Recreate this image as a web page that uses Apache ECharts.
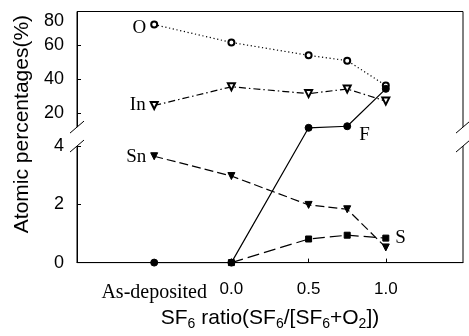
<!DOCTYPE html>
<html>
<head>
<meta charset="utf-8">
<script src="https://cdn.jsdelivr.net/npm/echarts@6/dist/echarts.min.js"></script>
<style>
  html, body { margin: 0; padding: 0; background: #fff; }
  #chart { width: 469px; height: 336px; }
</style>
</head>
<body>
<div id="chart"></div>
<script>
// SF6 ratio positions (As-deposited is put at -0.5)
const xPositions = [-0.5, 0, 0.5, 0.75, 1.0];
const oxygen = [72.3, 61.8, 54.2, 51.1, 36.5];
const indium = [24.7, 35.7, 31.7, 34.4, 27.3];
const fluorine = [0, 0, 11.7, 12.5, 34.5];
const tin = [3.65, 2.97, 1.98, 1.83, 0.52];
const sulfur = [null, 0, 0.81, 0.94, 0.84];

const xTicks = [-0.5, 0, 0.5, 1.0];
const xTickLabels = ['As-deposited', '0.0', '0.5', '1.0'];
const yTicks = [0, 2, 4, 20, 40, 60, 80];

// broken y axis: 0..4 below the break, 12..80 above it
const LOW_MAX = 4, HIGH_MIN = 12;
function toDisp(v) {
  if (v <= LOW_MAX) return 30 * v;
  if (v >= HIGH_MIN) return 118.5 + 1.75 * v;
  const a = 30 * LOW_MAX, b = 118.5 + 1.75 * HIGH_MIN;
  return a + (v - LOW_MAX) / (HIGH_MIN - LOW_MAX) * (b - a);
}
const Y_MAX = toDisp(80);

const sans = 'Liberation Sans';
const serif = 'Liberation Serif';

function points(vals) {
  return xPositions.map((x, i) => vals[i] == null ? null : [x, toDisp(vals[i])]).filter(Boolean);
}

function withLabel(data, idx, text, pos, extra) {
  data[idx] = {
    value: data[idx],
    label: Object.assign({
      show: true, formatter: text, position: pos,
      fontFamily: serif, fontSize: 19, color: '#000'
    }, extra || {})
  };
  return data;
}

const chart = echarts.init(document.getElementById('chart'));

const lineSeries = (name, vals, symbol, size, dash, extra) => Object.assign({
  name: name,
  type: 'line',
  data: points(vals),
  symbol: symbol,
  symbolSize: size,
  showAllSymbol: true,
  lineStyle: { color: '#000', width: 1.2, type: dash },
  itemStyle: { color: '#000', borderColor: '#000', borderWidth: 1 },
  emphasis: { disabled: true },
  z: 3
}, extra || {});

const oData = withLabel(points(oxygen), 0, 'O', 'left', { distance: 4, offset: [0, 3] });
const inData = withLabel(points(indium), 0, 'In', 'left', { distance: 4 });
const snData = withLabel(points(tin), 0, 'Sn', 'left', { distance: 4, offset: [0, 1] });
const fData = withLabel(points(fluorine), 3, 'F', 'right', { distance: 8, offset: [0, 9] });
const sData = withLabel(points(sulfur), 3, 'S', 'right', { distance: 6 });

chart.setOption({
  animation: false,
  backgroundColor: '#fff',
  grid: {
    left: 77, right: 6, top: 11.5, bottom: 66,
    show: true, borderColor: '#000', borderWidth: 1, backgroundColor: 'transparent'
  },
  xAxis: {
    type: 'value',
    min: -1, max: 1.5,
    name: '{a|SF}{s|6}{a| ratio(SF}{s|6}{a|/[SF}{s|6}{a|+O}{s|2}{a|])}',
    nameLocation: 'middle',
    nameGap: 41,
    nameTextStyle: {
      rich: {
        a: { fontFamily: sans, fontSize: 21, color: '#000' },
        s: { fontFamily: sans, fontSize: 14, color: '#000', padding: [12, 0, 0, 0] }
      }
    },
    axisLine: { show: true, onZero: false, lineStyle: { color: '#000', width: 1 } },
    splitLine: { show: false },
    axisTick: { show: true, inside: true, length: 4, customValues: [0, 0.5, 1.0], lineStyle: { color: '#000' } },
    axisLabel: {
      customValues: xTicks,
      margin: 14,
      formatter: function (val) {
        const i = xTicks.findIndex(t => Math.abs(t - val) < 1e-6);
        if (i < 0) return '';
        return (i === 0 ? '{serif|' : '{num|') + xTickLabels[i] + '}';
      },
      rich: {
        serif: { fontFamily: serif, fontSize: 20, color: '#000', padding: [6, 0, 0, 0] },
        num: { fontFamily: sans, fontSize: 17, color: '#000', padding: [4, 0, 0, 0] }
      }
    }
  },
  yAxis: {
    type: 'value',
    min: 0, max: Y_MAX,
    name: 'Atomic percentages(%)',
    nameLocation: 'middle',
    nameGap: 42,
    nameTextStyle: { fontFamily: sans, fontSize: 21, color: '#000', padding: [0, 0, 0, 26] },
    axisLine: { show: true, onZero: false, lineStyle: { color: '#000', width: 1 } },
    splitLine: { show: false },
    axisTick: {
      show: true, inside: true, length: 4,
      customValues: yTicks.filter(t => t !== 0 && t !== 80).map(toDisp),
      lineStyle: { color: '#000' }
    },
    axisLabel: {
      customValues: yTicks.map(toDisp),
      margin: 13,
      formatter: function (val) {
        const t = yTicks.find(t => Math.abs(toDisp(t) - val) < 0.01);
        if (t === undefined) return '';
        return t === 80 ? '{top|80}' : '{num|' + t + '}';
      },
      rich: {
        top: { fontFamily: sans, fontSize: 18, color: '#000', padding: [20, 0, 0, 0] },
        num: { fontFamily: sans, fontSize: 18, color: '#000' }
      }
    }
  },
  series: [
    lineSeries('O', oxygen, 'emptyCircle', 6, [1.2, 2.6], { data: oData }),
    lineSeries('In', indium, 'emptyTriangle', 7, [7, 3, 1.5, 3], { data: inData, symbolRotate: 180 }),
    lineSeries('F', fluorine, 'circle', 7, 'solid', { data: fData }),
    lineSeries('Sn', tin, 'triangle', 7, [9, 4], { data: snData, symbolRotate: 180 }),
    lineSeries('S', sulfur, 'rect', 6, [12, 5], { data: sData })
  ]
});

// axis break marks on the left and right frame lines
const yUp = chart.convertToPixel({ gridIndex: 0 }, [0, toDisp(HIGH_MIN)])[1];
const yLow = chart.convertToPixel({ gridIndex: 0 }, [0, toDisp(LOW_MAX)])[1];
const xL = chart.convertToPixel({ gridIndex: 0 }, [-1, 0])[0];
const xR = chart.convertToPixel({ gridIndex: 0 }, [1.5, 0])[0];
const breakEls = [];
[xL, xR].forEach(function (x) {
  breakEls.push({
    type: 'rect', z: 100,
    shape: { x: x - 2, y: yUp, width: 4, height: yLow - yUp },
    style: { fill: '#fff' }
  });
  [yUp, yLow].forEach(function (y) {
    breakEls.push({
      type: 'line', z: 101,
      shape: { x1: x - 7, y1: y + 6, x2: x + 7, y2: y - 6 },
      style: { stroke: '#000', lineWidth: 1 }
    });
  });
});
chart.setOption({ graphic: breakEls });
</script>
</body>
</html>
